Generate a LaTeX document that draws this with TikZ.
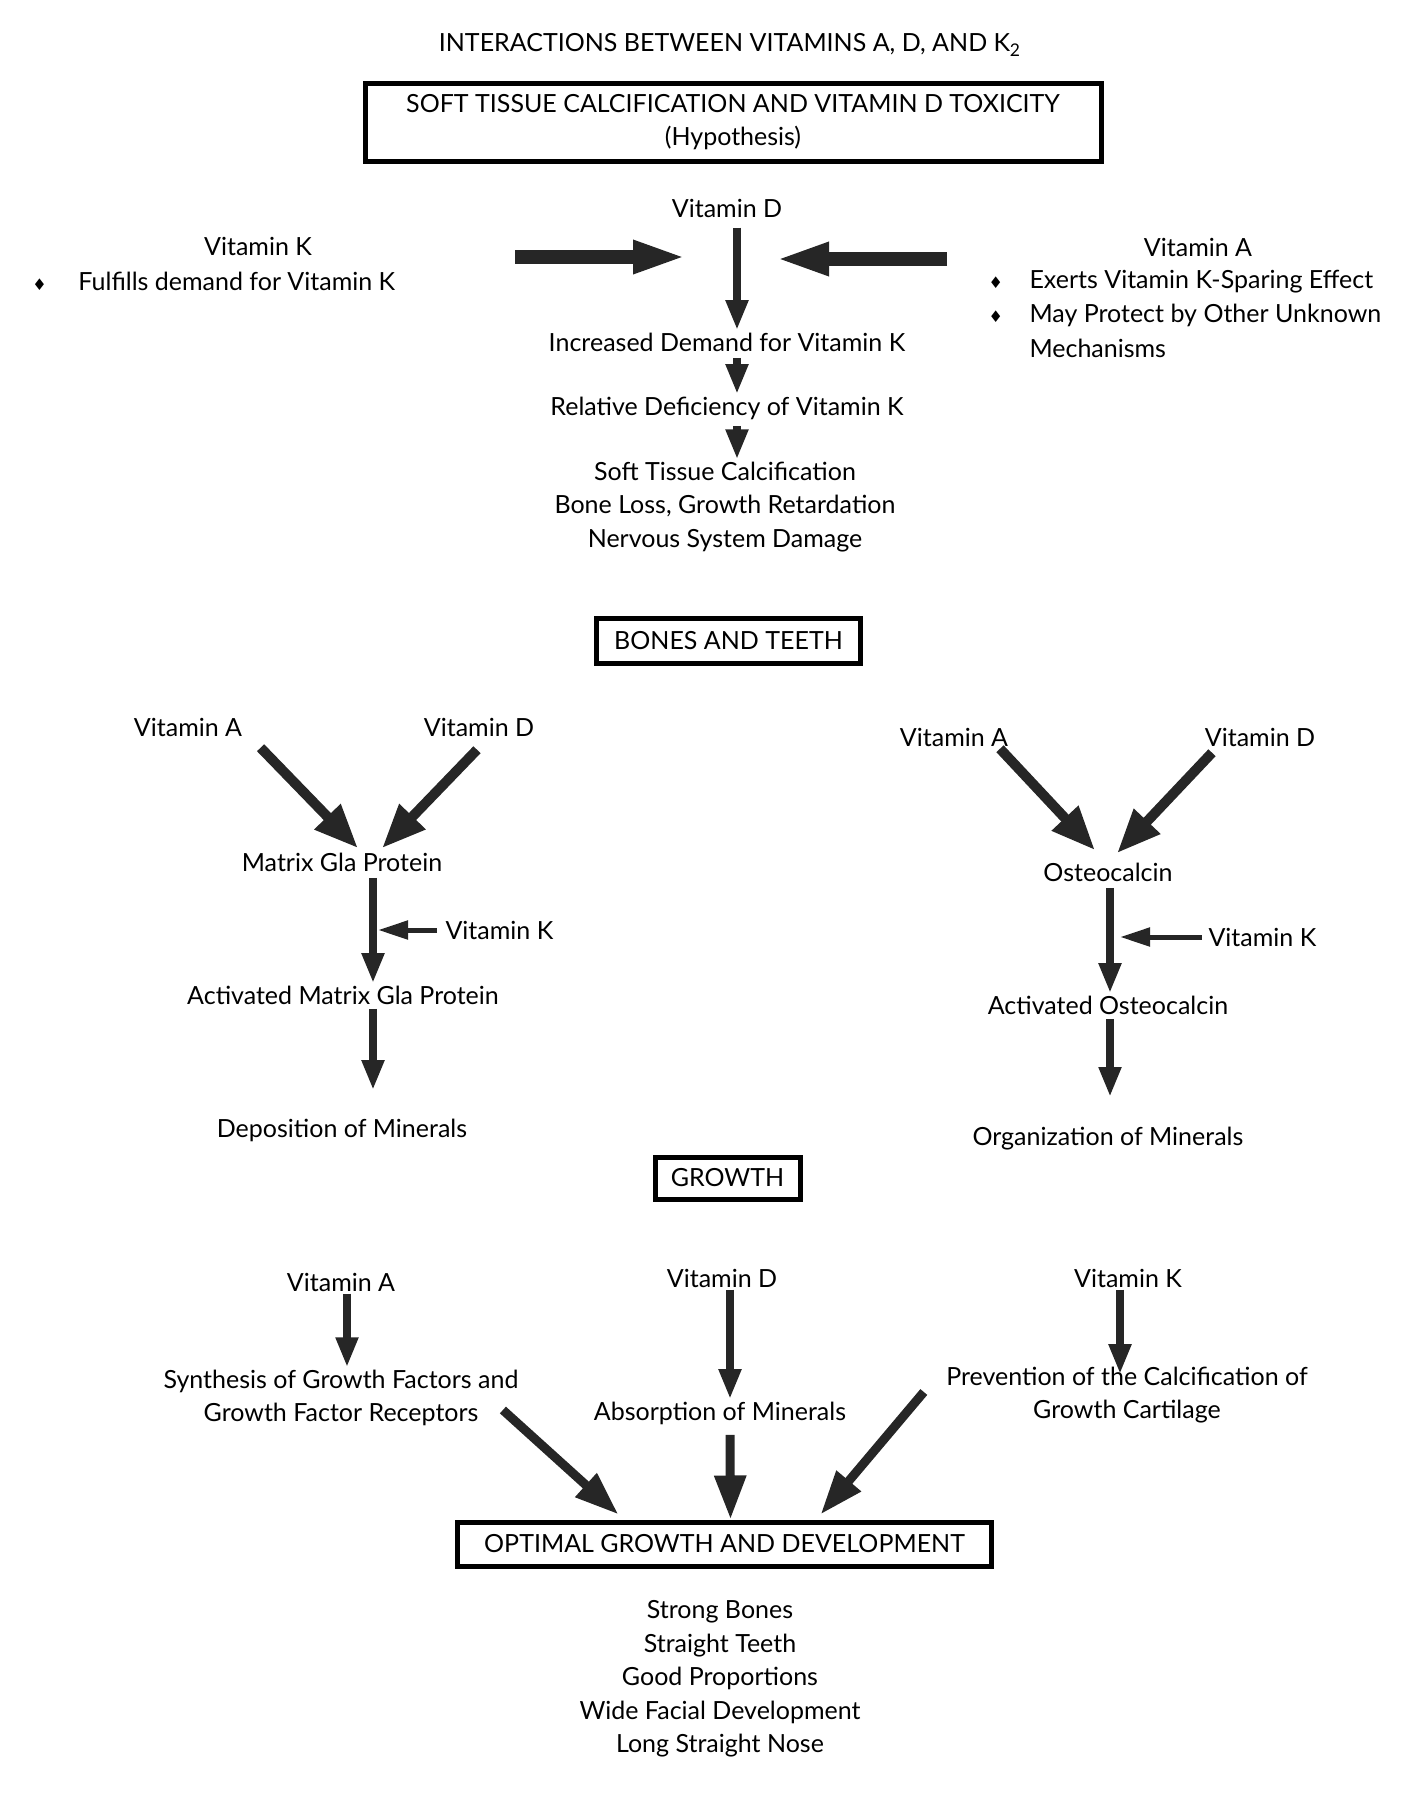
\documentclass[tikz,border=0pt]{standalone}
\usepackage{fontspec}
\setmainfont{Lato}
\newfontfamily\diafont{DejaVu Sans}
\newcommand\dia{{\diafont\fontsize{8}{8}\selectfont\char"2666}}
\usetikzlibrary{arrows.meta,positioning}
\begin{document}
\begin{tikzpicture}[x=0.5pt, y=-0.5pt, line width=0.5pt,
  every node/.style={font=\fontsize{12.5}{16.8}\selectfont, align=center, inner sep=1pt},
  heading/.style={draw, line width=2.5pt, inner sep=3pt},
  fat/.style={-{Triangle[length=27pt,width=15pt]}, line width=7pt, draw=black!85},
  diag/.style={-{Triangle[length=22pt,width=17pt]}, line width=5pt, draw=black!85},
  conv/.style={-{Triangle[length=22pt,width=15pt]}, line width=4.5pt, draw=black!85},
  down/.style={-{Triangle[length=15pt,width=10.5pt]}, line width=4pt, draw=black!85},
  side/.style={-{Triangle[length=15pt,width=9pt]}, line width=2.5pt, draw=black!85}]
\useasboundingbox (0,0) rectangle (1413,1805);
% Titulo
\node (title) at (730,45) {INTERACTIONS BETWEEN VITAMINS A, D, AND K\textsubscript{2}};
\node [heading, minimum width=368pt, minimum height=39pt] (boxtox) at (733,122)
  {SOFT TISSUE CALCIFICATION AND VITAMIN D TOXICITY\\(Hypothesis)};
% ---
% Toxicidad
% ---
\node (tvd) at (727,208) {Vitamin D};
\node (tvk) at (258,246) {Vitamin K};
\node [anchor=west] (tvkb) at (30,281) {\makebox[23pt][l]{\dia}Fulfills demand for Vitamin K};
\node (tva) at (1198,247) {Vitamin A};
\node [anchor=west] (spare1) at (986,282) {\makebox[20.5pt][l]{\dia}Exerts Vitamin K-Sparing Effect};
\node [anchor=west] (spare2) at (986,315) {\makebox[20.5pt][l]{\dia}May Protect by Other Unknown};
\node [anchor=west] (spare3) at (1027,348) {Mechanisms};
\node (dem) at (727,342) {Increased Demand for Vitamin K};
\node (rdef) at (727,408) {Relative Deficiency of Vitamin K};
\node (calc) at (725,507) {Soft Tissue Calcification\\Bone Loss, Growth Retardation\\Nervous System Damage};
\coordinate (lk0) at (515,257);
\coordinate (lk1) at (687,257);
\coordinate (ra0) at (947,259);
\coordinate (ra1) at (775,259);
\draw [fat] (lk0) -- (lk1);
\draw [fat] (ra0) -- (ra1);
\draw [down, shorten <=4pt] ([xshift=5pt]tvd.south) -- ([xshift=5pt]dem.north);
\draw [down, shorten <=2pt, shorten >=0pt] ([xshift=5pt]dem.south) -- ([xshift=5pt]rdef.north);
\draw [down, shorten <=2pt, shorten >=0pt] ([xshift=5pt]rdef.south) -- ([xshift=6pt]calc.north);
% ---
% Huesos
% ---
\node [heading, minimum width=132pt, minimum height=22.5pt] (boxbt) at (728.5,640.5) {BONES AND TEETH};
\node (lva) at (188,727) {Vitamin A};
\node (lvd) at (479,727) {Vitamin D};
\node (mgp) at (342,862) {Matrix Gla Protein};
\node (amgp) at (343,995) {Activated Matrix Gla Protein};
\node (dep) at (342,1130) {Deposition of Minerals};
\node [anchor=west] (lvk) at (443,930) {Vitamin K};
\coordinate (lkt) at (378,930);
\draw [diag] ([xshift=8pt,yshift=-4.5pt]lva.south east) -- ([xshift=8pt,yshift=1pt]mgp.north);
\draw [diag] ([xshift=-1pt,yshift=-5.5pt]lvd.south) -- ([xshift=20pt,yshift=1pt]mgp.north);
\draw [down, shorten <=2pt] ([xshift=15.5pt]mgp.south) -- ([xshift=15pt]amgp.north);
\draw [down, shorten <=1pt, shorten >=13pt] ([xshift=15pt]amgp.south) -- ([xshift=15.5pt]dep.north);
\draw [side, shorten <=3pt] (lvk.west) -- (lkt);
\node (rva) at (954,737) {Vitamin A};
\node (rvd) at (1260,737) {Vitamin D};
\node (ost) at (1108,872) {Osteocalcin};
\node (aost) at (1108,1005) {Activated Osteocalcin};
\node (org) at (1108,1139) {Organization of Minerals};
\node [anchor=west] (rvk) at (1206,937) {Vitamin K};
\coordinate (rkt) at (1120,937);
\draw [diag] ([xshift=23pt]rva.south) -- ([xshift=-6.5pt,yshift=5pt]ost.north);
\draw [diag] ([xshift=-24pt,yshift=-2pt]rvd.south) -- ([xshift=4.5pt,yshift=3.5pt]ost.north);
\draw [down, shorten <=2pt] ([xshift=1pt]ost.south) -- ([xshift=1pt]aost.north);
\draw [down, shorten <=1pt, shorten >=14pt] ([xshift=1pt]aost.south) -- ([xshift=1pt]org.north);
\draw [side, shorten <=2pt] (rvk.west) -- (rkt);
% ---
% Crecimiento
% ---
\node [heading, minimum width=72.5pt, minimum height=21pt] (boxgr) at (727.5,1178) {GROWTH};
\node (gva) at (341,1282) {Vitamin A};
\node (gvd) at (722,1278) {Vitamin D};
\node (gvk) at (1128,1278) {Vitamin K};
\node (syn) at (341,1398) {Synthesis of Growth Factors and\\Growth Factor Receptors};
\node (abs) at (720,1413) {Absorption of Minerals};
\node (prev) at (1127,1395) {Prevention of the Calcification of\\Growth Cartilage};
\draw [down] ([xshift=3pt]gva.south) -- ([xshift=3pt]syn.north);
\draw [down] ([xshift=4pt]gvd.south) -- ([xshift=5pt]abs.north);
\draw [down, shorten >=-5pt] ([xshift=-4pt]gvk.south) -- ([xshift=-3.5pt]prev.north);
\node [heading, minimum width=267pt, minimum height=22pt] (boxopt) at (724.5,1544) {OPTIMAL GROWTH AND DEVELOPMENT};
\draw [conv] ([xshift=-9pt,yshift=-6pt]syn.east) -- ([xshift=-53pt,yshift=2.5pt]boxopt.north);
\draw [conv] ([xshift=5pt,yshift=-4pt]abs.south) -- ([xshift=3pt]boxopt.north);
\draw [conv] ([xshift=-10pt,yshift=1.5pt]prev.west) -- ([xshift=48pt,yshift=2.5pt]boxopt.north);
\node (res) at (720,1679) {Strong Bones\\Straight Teeth\\Good Proportions\\Wide Facial Development\\Long Straight Nose};
\end{tikzpicture}
\end{document}
